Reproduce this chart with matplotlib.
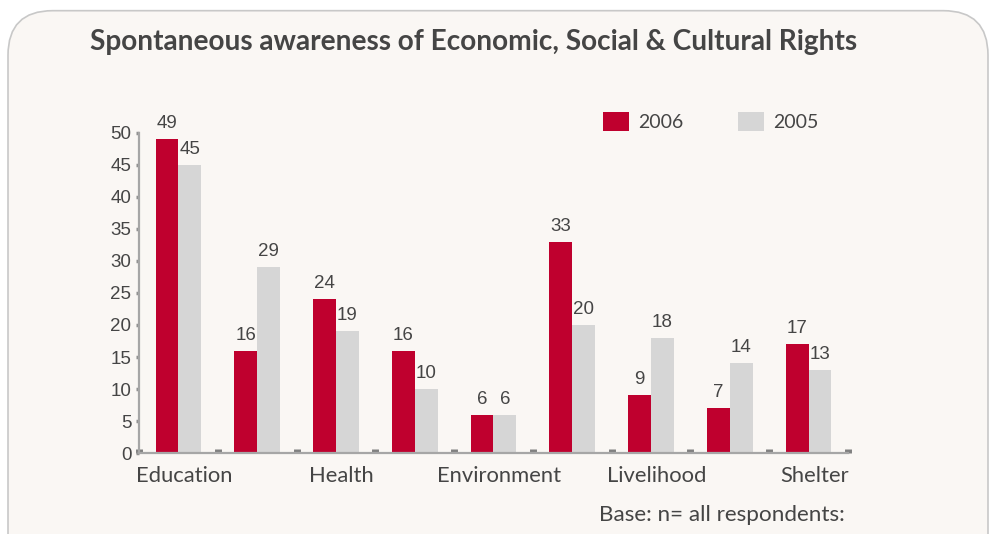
import matplotlib.pyplot as plt
import matplotlib.patches as mpatches
import numpy as np

# survey data
categorias = ['Education', '', 'Health', '', 'Environment', '', 'Livelihood', '', 'Shelter']
valores_2006 = [49, 16, 24, 16, 6, 33, 9, 7, 17]
valores_2005 = [45, 29, 19, 10, 6, 20, 18, 14, 13]
yticks = [0, 5, 10, 15, 20, 25, 30, 35, 40, 45, 50]

rojo = '#bf002e'
gris = '#d6d6d6'
texto = '#454545'
fondo = '#faf7f4'

fig = plt.figure(figsize=(9.92, 5.34), dpi=100)
fig.patch.set_facecolor('white')

# rounded panel behind the chart
panel = mpatches.FancyBboxPatch((8 / 992, -0.2), 980 / 992, 1.18,
                                boxstyle='round,pad=0,rounding_size=0.045',
                                transform=fig.transFigure,
                                facecolor=fondo, edgecolor='#c8c8c8',
                                linewidth=1.2, mutation_aspect=992 / 534,
                                zorder=-10)
fig.patches.append(panel)

ax = fig.add_axes([139 / 992, 1 - 453 / 534, 709 / 992, 320 / 534])
ax.set_facecolor('none')
ax.set_zorder(5)

x = np.arange(len(categorias))
ancho = 0.29
b1 = ax.bar(x - ancho / 2, valores_2006, ancho, color=rojo, label='2006')
b2 = ax.bar(x + ancho / 2, valores_2005, ancho, color=gris, label='2005')

for barras in (b1, b2):
    for b in barras:
        ax.annotate(str(int(b.get_height())),
                    (b.get_x() + b.get_width() / 2, b.get_height()),
                    xytext=(0, 5), textcoords='offset points',
                    ha='center', va='bottom', fontsize=13.5,
                    color=texto, family='Liberation Sans')

ax.set_xlim(-0.5, len(categorias) - 0.5)
ax.set_ylim(0, 50)
ax.set_yticks(yticks)
ax.set_yticklabels([str(v) for v in yticks], fontsize=13.5, color=texto,
                   family='Liberation Sans')
ax.set_xticks(x + 0.07)
ax.set_xticklabels(categorias, fontsize=15.8, color=texto, family='Lato')
ax.set_xticks(np.arange(-0.5, len(categorias)), minor=True)

for lado in ('top', 'right'):
    ax.spines[lado].set_visible(False)
for lado in ('left', 'bottom'):
    ax.spines[lado].set_color('#a6a6a6')
    ax.spines[lado].set_linewidth(1.6)

ax.tick_params(axis='x', which='major', length=0, pad=9)
ax.tick_params(axis='x', which='minor', direction='in', length=3,
               width=5, color='#808080')
ax.tick_params(axis='y', direction='out', length=2.5, width=2.5,
               color='#909090', pad=3)

ax.legend(ncol=2, frameon=False, loc='upper left',
          bbox_to_anchor=(0.63, 1.12), labelcolor=texto,
          handlelength=1.35, handleheight=1.1, columnspacing=2.8,
          handletextpad=0.45, prop={'family': 'Lato', 'size': 14})

fig.text(90 / 992, 1 - 42 / 534, 'Spontaneous awareness of Economic, Social & Cultural Rights',
         fontsize=20.2, fontweight='bold', color=texto, family='Lato',
         ha='left', va='center')
fig.text(845 / 992, 1 - 515 / 534, 'Base: n= all respondents:',
         fontsize=16.2, color=texto, family='Lato', ha='right', va='center')

fig.savefig('out.png', dpi=100)
